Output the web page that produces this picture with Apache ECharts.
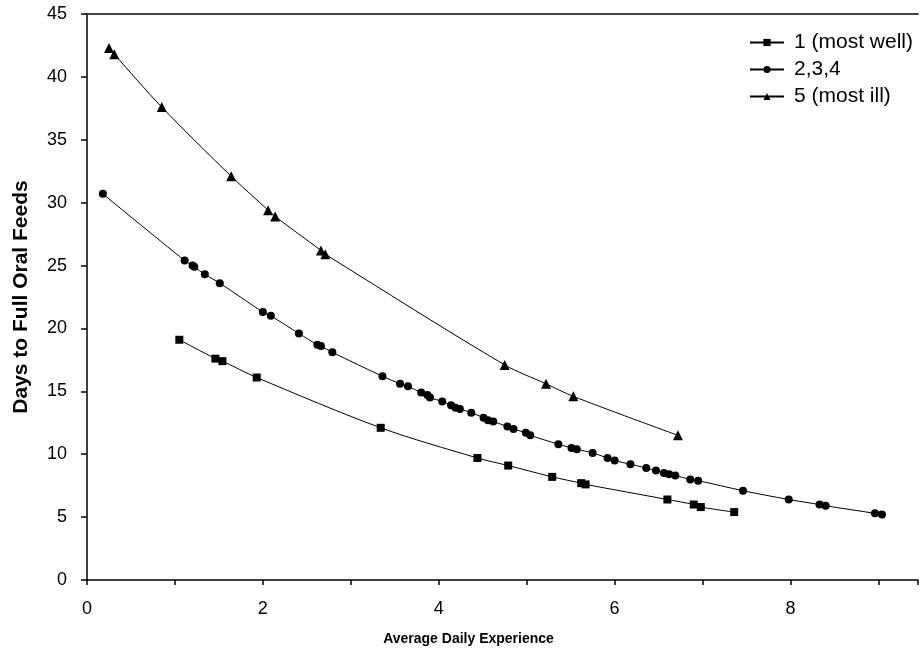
<!DOCTYPE html>
<html>
<head>
<meta charset="utf-8">
<script src="https://cdn.jsdelivr.net/npm/echarts@6/dist/echarts.min.js"></script>
<style>
  html, body { margin: 0; padding: 0; background: #fff; }
  #chart { width: 921px; height: 661px; }
</style>
</head>
<body>
<div id="chart"></div>
<script>
// values: [average daily experience, days to full oral feeds]
var wellPoints = [
  [1.05, 19.1], [1.46, 17.6], [1.54, 17.4], [1.93, 16.1], [3.34, 12.1],
  [4.44, 9.7], [4.79, 9.1], [5.29, 8.2], [5.62, 7.7], [5.67, 7.6],
  [6.60, 6.4], [6.90, 6.0], [6.98, 5.8], [7.36, 5.4]
];
var midPoints = [
  [0.18, 30.7], [1.11, 25.4], [1.20, 25.0], [1.22, 24.9], [1.34, 24.3],
  [1.51, 23.6], [2.00, 21.3], [2.09, 21.0], [2.41, 19.6], [2.62, 18.7],
  [2.66, 18.6], [2.79, 18.1], [3.36, 16.2], [3.56, 15.6], [3.65, 15.4],
  [3.80, 14.9], [3.87, 14.7], [3.90, 14.5], [4.04, 14.2], [4.14, 13.9],
  [4.19, 13.7], [4.24, 13.6], [4.37, 13.3], [4.51, 12.9], [4.56, 12.7],
  [4.62, 12.6], [4.78, 12.2], [4.85, 12.0], [4.99, 11.7], [5.04, 11.5],
  [5.36, 10.8], [5.51, 10.5], [5.57, 10.4], [5.75, 10.1], [5.92, 9.7],
  [6.00, 9.5], [6.18, 9.2], [6.36, 8.9], [6.47, 8.7], [6.56, 8.5],
  [6.62, 8.4], [6.69, 8.3], [6.86, 8.0], [6.95, 7.9], [7.46, 7.1],
  [7.98, 6.4], [8.33, 6.0], [8.40, 5.9], [8.96, 5.3], [9.04, 5.2]
];
var illPoints = [
  [0.25, 42.3], [0.31, 41.8], [0.85, 37.6], [1.64, 32.1], [2.06, 29.4],
  [2.14, 28.9], [2.66, 26.2], [2.71, 25.9], [4.75, 17.1], [5.22, 15.6],
  [5.53, 14.6], [6.72, 11.5]
];
var seriesNames = ['1 (most well)', '2,3,4', '5 (most ill)'];

var myChart = echarts.init(document.getElementById('chart'));

function lineSeries(name, data, symbol, size) {
  return {
    name: name,
    type: 'line',
    data: data,
    smooth: 0.3,
    symbol: symbol,
    symbolSize: size,
    showAllSymbol: true,
    lineStyle: { color: '#000', width: 1 },
    itemStyle: { color: '#000' },
    animation: false
  };
}

var option = {
  backgroundColor: '#fff',
  textStyle: { fontFamily: 'Liberation Sans' },
  grid: { left: 87, right: 0, top: 14, bottom: 81 },
  legend: {
    orient: 'vertical',
    left: 744,
    top: 27,
    itemWidth: 34,
    itemHeight: 9,
    itemGap: 6,
    textStyle: {
      fontSize: 21, color: '#000', fontFamily: 'Liberation Sans', lineHeight: 21,
      padding: [0, 0, 0, 5]
    },
    data: seriesNames
  },
  xAxis: [{
    type: 'value',
    min: 0,
    max: 9.45,
    interval: 1,
    name: 'Average Daily Experience',
    nameLocation: 'middle',
    nameGap: 52,
    nameTextStyle: {
      fontSize: 14, fontWeight: 'bold', color: '#000', fontFamily: 'Liberation Sans',
      padding: [0, 68, 0, 0]
    },
    axisLine: { show: true, lineStyle: { color: '#000', width: 1.5 } },
    axisTick: { show: true, inside: false, length: 5, lineStyle: { color: '#000', width: 1.5 } },
    axisLabel: {
      fontSize: 18, color: '#000', margin: 20,
      formatter: function (v) { return (v % 2 === 0 && v < 9) ? String(v) : ''; }
    },
    splitLine: { show: false }
  }, {
    type: 'value',
    position: 'top',
    min: 0,
    max: 9.45,
    axisLine: { show: true, lineStyle: { color: '#444', width: 2 } },
    axisTick: { show: false },
    axisLabel: { show: false },
    splitLine: { show: false }
  }],
  yAxis: {
    type: 'value',
    min: 0,
    max: 45,
    interval: 5,
    name: 'Days to Full Oral Feeds',
    nameLocation: 'middle',
    nameGap: 55,
    nameTextStyle: { fontSize: 21, fontWeight: 'bold', color: '#000', fontFamily: 'Liberation Sans' },
    axisLine: { show: true, lineStyle: { color: '#000', width: 1.5 } },
    axisTick: { show: true, inside: false, length: 6, lineStyle: { color: '#000', width: 1.5 } },
    axisLabel: { fontSize: 18, color: '#000', margin: 20 },
    splitLine: { show: false }
  },
  series: [
    lineSeries(seriesNames[0], wellPoints, 'rect', 8),
    lineSeries(seriesNames[1], midPoints, 'circle', 8),
    lineSeries(seriesNames[2], illPoints, 'triangle', 10)
  ]
};

myChart.setOption(option);
</script>
</body>
</html>
